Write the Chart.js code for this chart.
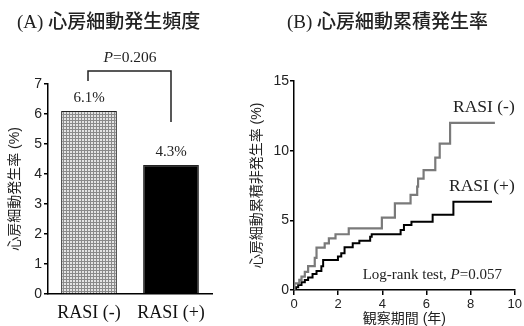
<!DOCTYPE html>
<html lang="ja">
<head>
<meta charset="UTF-8">
<title>心房細動発生頻度・累積発生率</title>
<script src="https://cdn.jsdelivr.net/npm/chart.js@4"></script>
<style>
body { margin: 0; background: #fff; width: 524px; height: 326px; position: relative; overflow: hidden; }
canvas { position: absolute; top: 0; }
#barChart { left: 0; }
#kmChart { left: 240px; }
</style>
</head>
<body>
<canvas id="barChart" width="240" height="326"></canvas>
<canvas id="kmChart" width="284" height="326"></canvas>
<script>
// (A) bar chart
const barLabels = ['RASI (-)', 'RASI (+)'];
const barValues = [6.1, 4.3];
const barValueLabels = ['6.1%', '4.3%'];

// (B) cumulative incidence, step points (year, %)
const kmTimesMinus = [0, 0.02, 0.24, 0.34, 0.49, 0.64, 0.94, 1.02, 1.39, 1.58, 1.88, 2.48, 3.98, 4.57, 5.28, 5.58, 5.62, 5.87, 6.40, 6.60, 7.07, 9.10];
const kmRatesMinus = [0, 0.48, 0.72, 0.96, 1.3, 1.72, 2.3, 3.04, 3.35, 3.7, 4.0, 4.43, 5.19, 6.22, 6.82, 7.42, 8.0, 8.6, 9.5, 10.5, 12.0, 12.0];
const kmTimesPlus = [0, 0.09, 0.19, 0.34, 0.49, 0.64, 0.84, 1.02, 1.24, 1.32, 1.99, 2.14, 2.29, 2.66, 2.96, 3.45, 3.52, 4.83, 4.98, 5.32, 6.28, 7.22, 8.97];
const kmRatesPlus = [0, 0.2, 0.36, 0.55, 0.72, 0.9, 1.15, 1.36, 1.7, 2.15, 2.4, 2.63, 3.06, 3.35, 3.54, 3.83, 4.0, 4.31, 4.67, 4.9, 5.4, 6.34, 6.34];

const SANS = "'Liberation Sans', Arial, sans-serif";
const SERIF = "'Liberation Serif', 'Times New Roman', serif";
const JP = "'Liberation Serif', 'Noto Sans CJK JP', serif";
const JP_SANS = "'Liberation Sans', 'Noto Sans CJK JP', sans-serif";

Chart.defaults.font.family = SANS;
Chart.defaults.color = '#222';

function gridPattern() {
    const c = document.createElement('canvas');
    c.width = 3; c.height = 3;
    const g = c.getContext('2d');
    g.fillStyle = '#e4e4e4';
    g.fillRect(0, 0, 3, 3);
    g.fillStyle = '#8a8a8a';
    g.fillRect(0, 0, 3, 1);
    g.fillRect(0, 0, 1, 3);
    return g.createPattern(c, 'repeat');
}

// text with an italic "P"
function drawPText(ctx, pre, post, x, y, size, align) {
    ctx.save();
    ctx.textBaseline = 'middle';
    ctx.fillStyle = '#222';
    const fn = size + 'px ' + SERIF;
    const fi = 'italic ' + fn;
    ctx.font = fn;
    const w1 = ctx.measureText(pre).width;
    const w3 = ctx.measureText(post).width;
    ctx.font = fi;
    const w2 = ctx.measureText('P').width;
    const total = w1 + w2 + w3;
    let sx = x;
    if (align === 'center') sx = x - total / 2;
    if (align === 'right') sx = x - total;
    ctx.textAlign = 'left';
    ctx.font = fn;
    ctx.fillText(pre, sx, y);
    ctx.font = fi;
    ctx.fillText('P', sx + w1, y);
    ctx.font = fn;
    ctx.fillText(post, sx + w1 + w2, y);
    ctx.restore();
}

const barExtras = {
    id: 'barExtras',
    afterDraw(chart) {
        const ctx = chart.ctx;
        const y = chart.scales.y;
        const bars = chart.getDatasetMeta(0).data;
        ctx.save();
        ctx.fillStyle = '#222';
        ctx.font = '500 19px ' + JP;
        ctx.textBaseline = 'middle';
        ctx.fillText('(A) 心房細動発生頻度', 17, 23);

        ctx.font = '15px ' + SERIF;
        ctx.textAlign = 'center';
        ctx.textBaseline = 'bottom';
        bars.forEach((b, i) => ctx.fillText(barValueLabels[i], b.x, b.y - 5));

        // significance bracket
        ctx.strokeStyle = '#222';
        ctx.lineWidth = 1.5;
        ctx.beginPath();
        ctx.moveTo(bars[0].x - 1, y.getPixelForValue(7.1));
        ctx.lineTo(bars[0].x - 1, y.getPixelForValue(7.43));
        ctx.lineTo(bars[1].x, y.getPixelForValue(7.43));
        ctx.lineTo(bars[1].x, y.getPixelForValue(5.73));
        ctx.stroke();
        ctx.restore();
        drawPText(ctx, '', '=0.206', (bars[0].x + bars[1].x) / 2, y.getPixelForValue(7.87), 15.5, 'center');
    }
};

new Chart(document.getElementById('barChart'), {
    type: 'bar',
    data: {
        labels: barLabels,
        datasets: [{
            data: barValues,
            backgroundColor: [gridPattern(), '#000'],
            borderColor: '#222',
            borderWidth: 1.2,
            barPercentage: 0.68,
            categoryPercentage: 1
        }]
    },
    options: {
        responsive: false,
        animation: false,
        layout: { padding: { top: 84, left: 0, right: 28, bottom: 0 } },
        plugins: { legend: { display: false }, tooltip: { enabled: false } },
        scales: {
            x: {
                grid: { display: false },
                border: { color: '#000', width: 1.5 },
                ticks: { font: { family: SERIF, size: 18 }, color: '#111', padding: 0, maxRotation: 0 },
                afterFit: s => { s.height = 32; }
            },
            y: {
                min: 0, max: 7,
                ticks: { stepSize: 1, font: { size: 14 }, padding: 2 },
                grid: { drawOnChartArea: false, tickLength: 4, color: '#000', lineWidth: 1.5 },
                border: { color: '#000', width: 1.5 },
                title: { display: true, text: '心房細動発生率 (%)', font: { family: JP_SANS, size: 14, lineHeight: 1.2 }, padding: { top: 7, bottom: 0 } },
                afterFit: s => { s.width = 48; }
            }
        }
    },
    plugins: [barExtras]
});

const kmExtras = {
    id: 'kmExtras',
    afterDraw(chart) {
        const ctx = chart.ctx;
        const x = chart.scales.x, y = chart.scales.y;
        ctx.save();
        ctx.fillStyle = '#222';
        ctx.font = '500 19px ' + JP;
        ctx.textBaseline = 'middle';
        ctx.fillText('(B) 心房細動累積発生率', 47, 23);
        ctx.font = '17.5px ' + SERIF;
        ctx.textAlign = 'right';
        ctx.fillText('RASI (-)', x.getPixelForValue(10), y.getPixelForValue(13.1));
        ctx.fillText('RASI (+)', x.getPixelForValue(10), y.getPixelForValue(7.4));
        ctx.restore();
        drawPText(ctx, 'Log-rank test, ', '=0.057', x.getPixelForValue(9.42), y.getPixelForValue(1.08), 15, 'right');
    }
};

const toPoints = (ts, vs) => ts.map((t, i) => ({ x: t, y: vs[i] }));

new Chart(document.getElementById('kmChart'), {
    type: 'line',
    data: {
        datasets: [
            { label: 'RASI (-)', data: toPoints(kmTimesMinus, kmRatesMinus), borderColor: '#7a7a7a', borderWidth: 2.2, stepped: 'before', pointRadius: 0 },
            { label: 'RASI (+)', data: toPoints(kmTimesPlus, kmRatesPlus), borderColor: '#000', borderWidth: 2, stepped: 'before', pointRadius: 0 }
        ]
    },
    options: {
        responsive: false,
        animation: false,
        layout: { padding: { top: 81, left: 0, right: 7, bottom: 0 } },
        plugins: { legend: { display: false }, tooltip: { enabled: false } },
        scales: {
            x: {
                type: 'linear', min: 0, max: 10,
                ticks: { stepSize: 2, font: { size: 13 }, padding: 2, maxRotation: 0 },
                grid: { drawOnChartArea: false, tickLength: 5, color: '#000', lineWidth: 1.5 },
                border: { color: '#000', width: 1.5 },
                title: { display: true, text: '観察期間 (年)', font: { family: JP_SANS, size: 14, lineHeight: 1 }, padding: { top: 0, bottom: 0 } },
                afterFit: s => { s.height = 36; }
            },
            y: {
                min: 0, max: 15,
                ticks: { stepSize: 5, font: { size: 14 }, padding: 1 },
                grid: { drawOnChartArea: false, tickLength: 4, color: '#000', lineWidth: 1.5 },
                border: { color: '#000', width: 1.5 },
                title: { display: true, text: '心房細動累積非発生率 (%)', font: { family: JP_SANS, size: 14, lineHeight: 1.2 }, padding: { top: 9, bottom: 0 } },
                afterFit: s => { s.width = 54; }
            }
        }
    },
    plugins: [kmExtras]
});
</script>
</body>
</html>
